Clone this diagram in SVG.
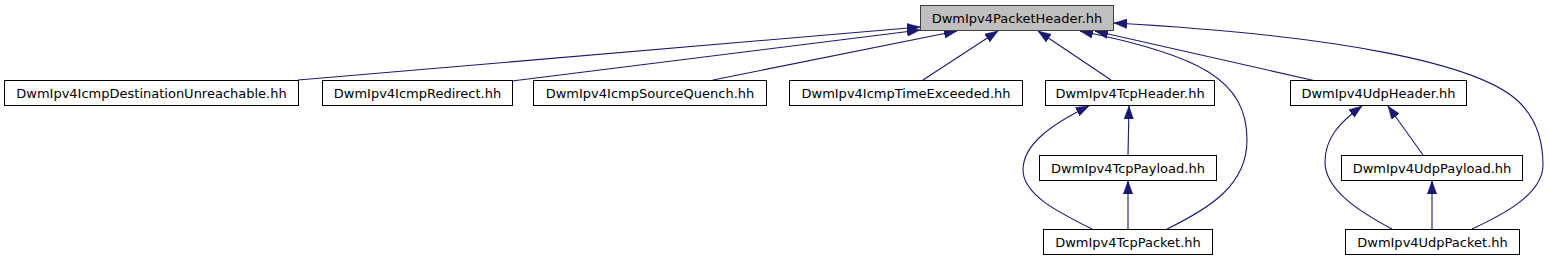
<svg xmlns="http://www.w3.org/2000/svg" width="1549" height="261" viewBox="0 0 1549 261">
<style>
  .node rect { fill: #ffffff; stroke: #000000; stroke-width: 1; }
  .node.hl rect { fill: #bfbfbf; stroke: #404040; }
  .node text { font-family: "DejaVu Sans", "Liberation Sans", sans-serif; font-size: 13px; fill: #000000; text-anchor: middle; }
  .edges path { fill: none; stroke: #191970; stroke-width: 1.1; marker-end: url(#arr); }
</style>
<defs>
  <marker id="arr" markerUnits="userSpaceOnUse" markerWidth="13" markerHeight="10" refX="13" refY="5" orient="auto">
    <path d="M0,0.3 L13,5 L0,9.7 z" fill="#191970" stroke="#191970" stroke-width="0.5"/>
  </marker>
</defs>
<rect width="1549" height="261" fill="#ffffff"/>
<g class="edges" id="edges">
  <path d="M298,80 L920,27"/>
  <path d="M512,81 L920,30"/>
  <path d="M713,80 L957,31"/>
  <path d="M923,80 L998,31"/>
  <path d="M1111,80 L1038,31"/>
  <path d="M1316,81 L1095,31"/>
  <path d="M1167,229 C1210,208 1247,185 1247,140 C1247,80 1200,55 1080,31"/>
  <path d="M1472,229 C1500,216 1543,195 1543,165 C1543,140 1535,118 1520,103 C1480,62 1330,35 1114,23"/>
  <path d="M1128,155 L1129,106"/>
  <path d="M1092,229 C1060,213 1023,195 1023,170 C1023,145 1050,125 1089,106"/>
  <path d="M1128,229 L1128,181"/>
  <path d="M1423,155 L1388,106"/>
  <path d="M1392,229 C1360,212 1325,190 1325,162 C1325,138 1340,122 1362,106"/>
  <path d="M1432,229 L1432,181"/>
</g>
<g class="node hl" id="n-packetheader">
  <rect x="920.5" y="5.5" width="193" height="25"/>
  <text x="1017" y="22.5">DwmIpv4PacketHeader.hh</text>
</g>
<g class="node" id="n-destunreach">
  <rect x="4.5" y="80.5" width="294" height="25"/>
  <text x="151.5" y="97.5">DwmIpv4IcmpDestinationUnreachable.hh</text>
</g>
<g class="node" id="n-redirect">
  <rect x="322.5" y="80.5" width="190" height="25"/>
  <text x="417.5" y="97.5">DwmIpv4IcmpRedirect.hh</text>
</g>
<g class="node" id="n-sourcequench">
  <rect x="533.5" y="80.5" width="233" height="25"/>
  <text x="650" y="97.5">DwmIpv4IcmpSourceQuench.hh</text>
</g>
<g class="node" id="n-timeexceeded">
  <rect x="789.5" y="80.5" width="233" height="25"/>
  <text x="906" y="97.5">DwmIpv4IcmpTimeExceeded.hh</text>
</g>
<g class="node" id="n-tcpheader">
  <rect x="1045.5" y="80.5" width="169" height="25"/>
  <text x="1130" y="97.5">DwmIpv4TcpHeader.hh</text>
</g>
<g class="node" id="n-udpheader">
  <rect x="1290.5" y="80.5" width="176" height="25"/>
  <text x="1378.5" y="97.5">DwmIpv4UdpHeader.hh</text>
</g>
<g class="node" id="n-tcppayload">
  <rect x="1039.5" y="155.5" width="177" height="25"/>
  <text x="1128" y="172.5">DwmIpv4TcpPayload.hh</text>
</g>
<g class="node" id="n-udppayload">
  <rect x="1341.5" y="155.5" width="181" height="25"/>
  <text x="1432" y="172.5">DwmIpv4UdpPayload.hh</text>
</g>
<g class="node" id="n-tcppacket">
  <rect x="1043.5" y="229.5" width="169" height="25"/>
  <text x="1128" y="246.5">DwmIpv4TcpPacket.hh</text>
</g>
<g class="node" id="n-udppacket">
  <rect x="1345.5" y="229.5" width="174" height="25"/>
  <text x="1432.5" y="246.5">DwmIpv4UdpPacket.hh</text>
</g>
</svg>
